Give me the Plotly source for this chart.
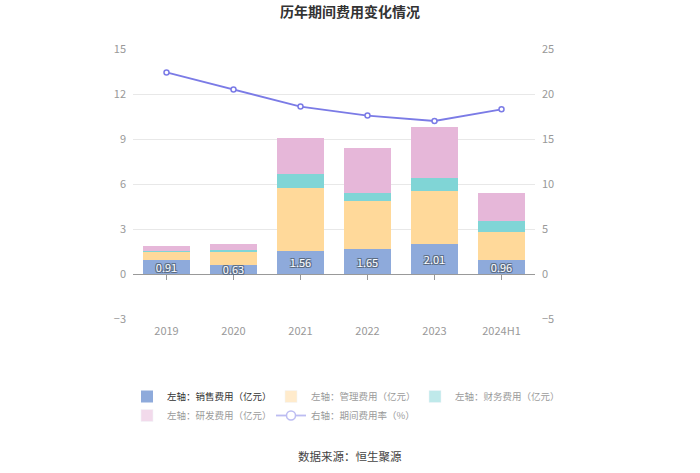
import plotly.graph_objects as go

categories = ["2019", "2020", "2021", "2022", "2023", "2024H1"]
sales = [0.91, 0.63, 1.56, 1.65, 2.01, 0.96]
admin = [0.60, 0.81, 4.15, 3.19, 3.50, 1.87]
finance = [0.02, 0.17, 0.97, 0.53, 0.86, 0.69]
rnd = [0.35, 0.36, 2.39, 3.06, 3.41, 1.85]
rate = [22.4, 20.5, 18.6, 17.6, 17.0, 18.3]

left_ticks = [-3, 0, 3, 6, 9, 12, 15]
right_ticks = [-5, 0, 5, 10, 15, 20, 25]

names = ["左轴：销售费用（亿元）", "左轴：管理费用（亿元）", "左轴：财务费用（亿元）",
         "左轴：研发费用（亿元）", "右轴：期间费用率（%）"]
colors = ["#8EAADB", "#FFD99A", "#80D5D6", "#E6B7D9"]
line_color = "#7B7BE6"
FONT = "Noto Sans CJK SC"

fig = go.Figure()
series = [sales, admin, finance, rnd]
for i, vals in enumerate(series):
    kw = {}
    if i == 0:
        kw = dict(text=[f"{v:.2f}" for v in vals], textposition="inside",
                  insidetextanchor="middle", constraintext="none",
                  textfont=dict(color="white", size=11, family=FONT,
                                shadow="-1px -1px 0 #5a6a80, 1px -1px 0 #5a6a80, -1px 1px 0 #5a6a80, 1px 1px 0 #5a6a80"))
    fig.add_trace(go.Bar(x=categories, y=vals, name=names[i], marker_color=colors[i],
                         marker_line_width=0, width=0.7, showlegend=(i == 0),
                         hoverinfo="skip", **kw))

fig.add_trace(go.Scatter(x=categories, y=rate, yaxis="y2", mode="lines+markers",
                         name=names[4], showlegend=False,
                         line=dict(color=line_color, width=1.8),
                         marker=dict(symbol="circle", size=5, color="white",
                                     line=dict(color=line_color, width=1.5))))

# faded legend entries (as in reference)
for i in range(1, 4):
    fig.add_trace(go.Bar(x=categories, y=series[i], name=names[i], marker_color=colors[i],
                         visible="legendonly"))
fig.add_trace(go.Scatter(x=categories, y=rate, yaxis="y2", mode="lines+markers",
                         name=names[4], visible="legendonly",
                         line=dict(color=line_color, width=1.8),
                         marker=dict(symbol="circle", size=9, color="white",
                                     line=dict(color=line_color, width=1.5))))

# tick marks at zero line
fig.add_trace(go.Scatter(x=categories, y=[None]*len(categories), xaxis="x2",
                         showlegend=False, hoverinfo="skip"))

fig.update_layout(
    width=700, height=473,
    margin=dict(l=133, r=165, t=49, b=154),
    paper_bgcolor="white", plot_bgcolor="white",
    barmode="stack", bargap=0.3,
    font=dict(family=FONT, size=11, color="#999"),
    title=dict(text="<b>历年期间费用变化情况</b>", x=0.5, xanchor="center",
               y=0.975, yanchor="middle",
               font=dict(family=FONT, size=14, color="#333")),
    xaxis=dict(type="category", showgrid=False, showline=False, ticks="",
               tickfont=dict(size=11, color="#999"), ticklabelstandoff=4),
    xaxis2=dict(type="category", overlaying="x", anchor="free", position=3/18,
                showgrid=False, showline=False, ticks="outside", ticklen=5,
                tickcolor="#999", tickwidth=1, showticklabels=False,
                matches="x"),
    yaxis=dict(range=[-3, 15], tickvals=left_ticks, showgrid=True, gridcolor="#E8E8E8",
               zeroline=True, zerolinecolor="#999", zerolinewidth=1,
               tickfont=dict(size=11, color="#999"), ticklabelstandoff=6),
    yaxis2=dict(range=[-5, 25], tickvals=right_ticks, overlaying="y", side="right",
                showgrid=False, zeroline=False,
                tickfont=dict(size=11, color="#999"), ticklabelstandoff=6),
    legend=dict(orientation="h", xref="paper", yref="paper",
                x=(127 - 133) / 402, xanchor="left", y=(319 - 382) / 270, yanchor="top",
                entrywidth=99, traceorder="normal",
                font=dict(size=9.5, color="#333", family=FONT),
                tracegroupgap=0, itemclick=False, itemdoubleclick=False),
    annotations=[dict(text="数据来源：恒生聚源", xref="paper", yref="paper",
                      x=(350 - 133) / 402, xanchor="center", y=(319 - 456) / 270,
                      yanchor="middle", showarrow=False,
                      font=dict(size=11.5, color="#444", family=FONT))],
)

fig.write_html("out.html", config={"displayModeBar": False},
               post_script="document.body.style.margin='0px';")
